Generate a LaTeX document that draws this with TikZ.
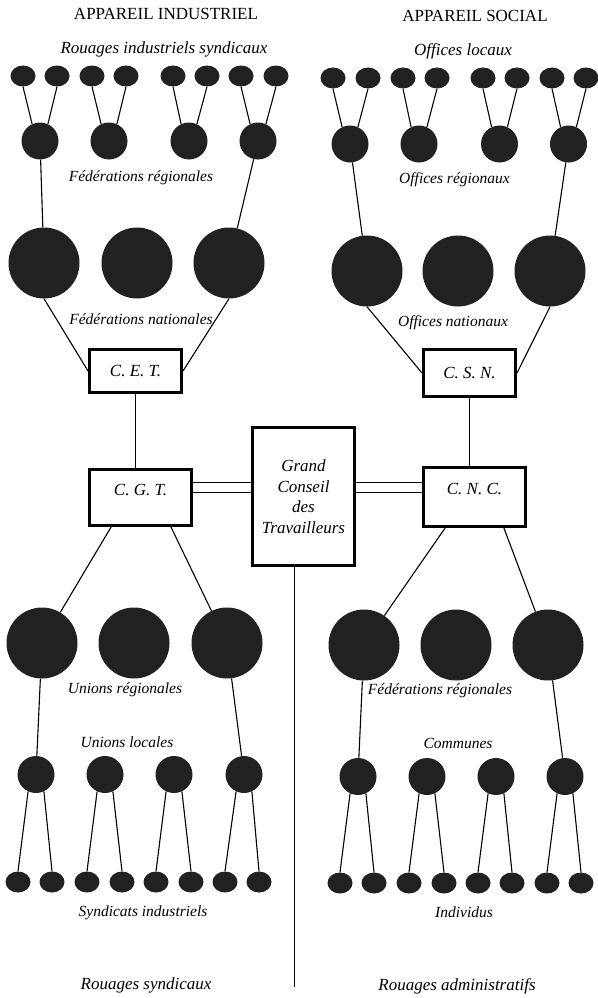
\documentclass[tikz,border=0pt]{standalone}
\usepackage{fontspec}
\setmainfont{Liberation Serif}
\usetikzlibrary{shapes.geometric,calc}

\begin{document}
\begin{tikzpicture}[x=1pt,y=-1pt,
    smalldot/.style={ellipse,fill=black!87,inner sep=0pt,minimum width=25pt,minimum height=21pt},
    middot/.style={circle,fill=black!87,inner sep=0pt,minimum size=37pt},
    bigdot/.style={circle,fill=black!87,inner sep=0pt,minimum size=71pt},
    orgbox/.style={draw,line width=3.3pt,inner sep=0pt,font=\fontsize{17}{20.5}\selectfont\itshape},
    heading/.style={anchor=base,font=\fontsize{17}{20}\selectfont},
    rouage/.style={anchor=base,font=\fontsize{17}{20}\selectfont\itshape},
    caption/.style={anchor=base,font=\fontsize{15.5}{18}\selectfont\itshape},
    link/.style={line width=1.1pt}]
    \useasboundingbox (0,0) rectangle (597,998);

    % Headings
    \node[heading] (titind) at (166,19.5) {APPAREIL INDUSTRIEL};
    \node[heading] (titsoc) at (475,21.5) {APPAREIL SOCIAL};
    \node[rouage] (labris) at (164,54) {Rouages industriels syndicaux};
    \node[rouage] (labol) at (463,56) {Offices locaux};

    % Industrial side, upper part
    \foreach \x [count=\i] in {23,57,92,126,173,207,241,276}
        \node[smalldot] (ris\i) at (\x,76) {};
    \foreach \x [count=\i] in {40,109,189,258}
        \node[middot] (fr\i) at (\x,141) {};
    \foreach \x [count=\i] in {44,137,229}
        \node[bigdot] (fn\i) at (\x,263) {};
    \node[caption] (labfr) at (141,181.5) {Fédérations régionales};
    \node[caption] (labfn) at (141,324) {Fédérations nationales};
    \node[orgbox,minimum width=91.7pt,minimum height=42.7pt] (cet) at (135.5,371) {C. E. T.};

    % Social side, upper part
    \foreach \x [count=\i] in {333,368,403,437,483,517,552,586}
        \node[smalldot] (ol\i) at (\x,78) {};
    \foreach \x [count=\i] in {350,419,499.5,568.5}
        \node[middot] (or\i) at (\x,144) {};
    \foreach \x [count=\i] in {367,458,550}
        \node[bigdot] (on\i) at (\x,271) {};
    \node[caption] (labor) at (454.5,183) {Offices régionaux};
    \node[caption] (labon) at (453,326) {Offices nationaux};
    \node[orgbox,minimum width=91.7pt,minimum height=46.7pt] (csn) at (469.5,373) {C. S. N.};

    % Confederations and Grand Conseil
    \node[orgbox,minimum width=101.7pt,minimum height=55.7pt,text height=17pt,text depth=22pt] (cgt) at (140.5,497.5) {C. G. T.};
    \node[orgbox,minimum width=101.7pt,minimum height=58.7pt,text height=17pt,text depth=22pt] (cnc) at (474.5,497) {C. N. C.};
    \node[orgbox,minimum width=101.7pt,minimum height=137.7pt,align=center] (gct) at (303.5,496.5) {Grand\\Conseil\\des\\Travailleurs};
    \coordinate (axisend) at (294.5,987);

    % Industrial side, lower part
    \foreach \x [count=\i] in {42,134,227}
        \node[bigdot] (ur\i) at (\x,643) {};
    \foreach \x [count=\i] in {36,105,174,244}
        \node[middot] (ul\i) at (\x,774.5) {};
    \foreach \x [count=\i] in {18,52,87,122,156,191,225,259}
        \node[smalldot] (si\i) at (\x,882) {};
    \node[caption] (labur) at (125,693) {Unions régionales};
    \node[caption] (labul) at (127,747) {Unions locales};
    \node[caption] (labsi) at (143,916) {Syndicats industriels};
    \node[rouage] (labrs) at (146,989) {Rouages syndicaux};

    % Social side, lower part
    \foreach \x [count=\i] in {364,456,548}
        \node[bigdot] (frs\i) at (\x,645) {};
    \foreach \x [count=\i] in {358,427,496,565}
        \node[middot] (com\i) at (\x,776.5) {};
    \foreach \x [count=\i] in {340,374,409,444,478,512,547,581}
        \node[smalldot] (ind\i) at (\x,883) {};
    \node[caption] (labfrs) at (440,694) {Fédérations régionales};
    \node[caption] (labcom) at (458,748) {Communes};
    \node[caption] (labind) at (464,917.5) {Individus};
    \node[rouage] (labra) at (457,990) {Rouages administratifs};

    % Connectors
    \foreach \i/\j/\a/\b in {1/1/115/-115,2/1/65/-65,3/2/115/-115,4/2/65/-65,5/3/115/-115,6/3/65/-65,7/4/115/-115,8/4/65/-65} {
        \draw[link] (ris\i.south) -- (fr\j.\a);
        \draw[link] (ol\i.south) -- (or\j.\a);
        \draw[link] (ul\j.\b) -- (si\i.north);
        \draw[link] (com\j.\b) -- (ind\i.north);
    }
    \draw[link] (fr1) -- (fn1);
    \draw[link] (fr4) -- (fn3);
    \draw[link] (or1) -- (on1);
    \draw[link] (or4) -- (on3);
    \draw[link] (fn1.south) -- (cet.west);
    \draw[link] (fn3.south) -- (cet.east);
    \draw[link] (on1.south) -- (csn.west);
    \draw[link] (on3.south) -- (csn.east);
    \draw[link] (cet.south) -- (cet.south |- cgt.north);
    \draw[link] (csn.south) -- (csn.south |- cnc.north);
    \draw[link,double,double distance=9pt] ([yshift=10pt]cgt.east) -- ([yshift=10pt]cgt.east -| gct.west);
    \draw[link,double,double distance=9pt] ([yshift=9.5pt]cnc.west) -- ([yshift=9.5pt]cnc.west -| gct.east);
    \draw[link] (gct.south -| axisend) -- (axisend);
    \draw[link] ($(cgt.south west)!0.22!(cgt.south east)$) -- (ur1);
    \draw[link] ($(cgt.south west)!0.79!(cgt.south east)$) -- (ur3);
    \draw[link] ($(cnc.south west)!0.22!(cnc.south east)$) -- (frs1);
    \draw[link] ($(cnc.south west)!0.78!(cnc.south east)$) -- (frs3);
    \draw[link] (ur1) -- (ul1);
    \draw[link] (ur3) -- (ul4);
    \draw[link] (frs1) -- (com1);
    \draw[link] (frs3) -- (com4);
\end{tikzpicture}
\end{document}
